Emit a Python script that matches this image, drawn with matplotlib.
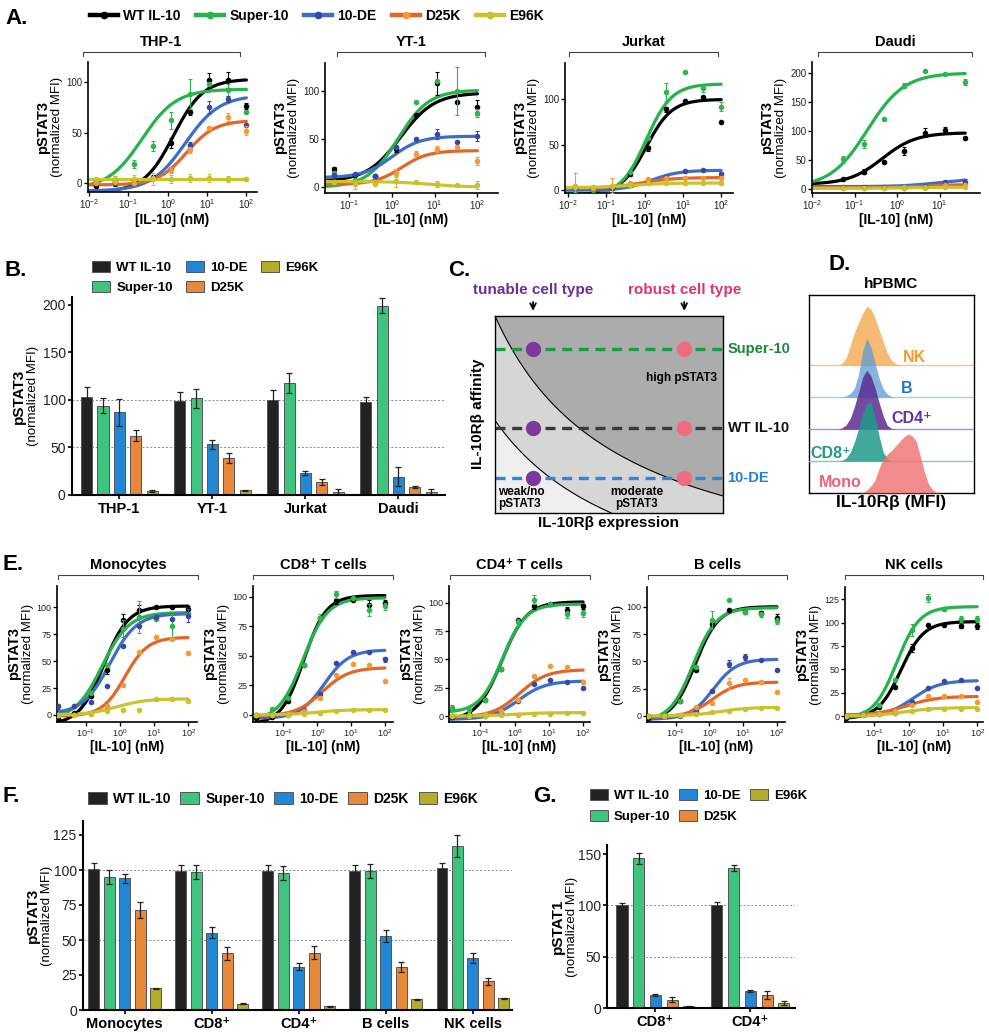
import numpy as np
import matplotlib
matplotlib.use("Agg")
import matplotlib.pyplot as plt
from matplotlib.lines import Line2D
from matplotlib.patches import Patch

plt.rcParams['font.family'] = ['Liberation Sans', 'DejaVu Sans']
plt.rcParams['mathtext.fontset'] = 'custom'
plt.rcParams['mathtext.rm'] = 'Liberation Sans'
plt.rcParams['mathtext.it'] = 'Liberation Sans:italic'
plt.rcParams['mathtext.bf'] = 'Liberation Sans:bold'

# ---------------- data ----------------
series = ["WT IL-10", "Super-10", "10-DE", "D25K", "E96K"]
line_cols = ["#000000", "#27b34b", "#3d6fc6", "#e2662a", "#cbc42d"]
dot_cols = ["#000000", "#2fb450", "#3a47a6", "#f29a38", "#c9c22c"]
bar_cols = ["#222222", "#3ec47e", "#2288d6", "#e8883b", "#b4ad2c"]

dose9 = [0.0152, 0.0457, 0.137, 0.412, 1.23, 3.70, 11.1, 33.3, 100]
dose8 = [0.0457, 0.137, 0.412, 1.23, 3.70, 11.1, 33.3, 100]
dose7 = [0.055, 0.165, 0.494, 1.48, 4.44, 13.3, 40]

# A. cell lines (points, error bars, fitted curve: bottom, top, EC50, hill)
thp1_vals = {"WT IL-10": [-3, 1, 3, 6, 40, 70, 102, 102, 76],
             "Super-10": [1, 3, 19, 37, 62, 88, 98, 92, 70],
             "10-DE": [3, 0, 0, 5, 14, 38, 75, 83, 57],
             "D25K": [0, 1, 0, 5, 13, 33, 55, 65, 52],
             "E96K": [4, 4, 4, 4, 4, 5, 5, 4, 4]}
thp1_errs = {"WT IL-10": [0, 4, 0, 0, 5, 3, 7, 8, 3],
             "Super-10": [0, 0, 4, 5, 8, 15, 0, 6, 0],
             "10-DE": [0, 0, 0, 0, 2, 3, 6, 3, 0],
             "D25K": [0, 0, 0, 0, 3, 3, 0, 4, 4],
             "E96K": [0, 3, 4, 6, 4, 4, 4, 3, 2]}
thp1_fits = {"WT IL-10": (-9, 103, 1.4, 1.15), "Super-10": (-6, 93, 0.22, 1.0),
             "10-DE": (-8, 87, 2.8, 1.0), "D25K": (-2, 62, 3.0, 1.2), "E96K": (4, 4, 1, 1)}

yt1_vals = {"WT IL-10": [19, 13, 12, 40, 75, 108, 89, 83],
            "Super-10": [15, 8, 12, 42, 88, 110, 100, 77],
            "10-DE": [13, 14, 12, 42, 50, 55, 47, 53],
            "D25K": [5, 5, 5, 15, 35, 40, 42, 27],
            "E96K": [5, 3, 3, 6, 5, 3, 2, 2]}
yt1_errs = {"WT IL-10": [2, 0, 0, 3, 0, 12, 0, 8],
            "Super-10": [0, 0, 0, 0, 0, 0, 25, 4],
            "10-DE": [0, 0, 0, 0, 0, 5, 0, 5],
            "D25K": [0, 0, 0, 4, 3, 3, 0, 4],
            "E96K": [0, 5, 0, 6, 0, 3, 0, 4]}
yt1_fits = {"WT IL-10": (6, 98, 1.6, 1.1), "Super-10": (0, 101, 1.4, 1.2),
            "10-DE": (10, 53, 1.0, 1.3), "D25K": (3, 38, 1.7, 1.4), "E96K": (6, 0, 8, 1)}

jurkat_vals = {"WT IL-10": [1, 0, 3, 18, 46, 89, 98, 103, 75],
               "Super-10": [0, 0, 3, 20, 58, 108, 130, 112, 92],
               "10-DE": [3, 2, 2, 6, 10, 15, 21, 22, 18],
               "D25K": [5, 2, 5, 8, 12, 14, 14, 14, 13],
               "E96K": [4, 4, 5, 6, 8, 8, 8, 8, 8]}
jurkat_errs = {"WT IL-10": [0, 0, 0, 2, 3, 3, 0, 0, 0],
               "Super-10": [0, 0, 0, 0, 0, 10, 0, 4, 5],
               "10-DE": [0, 0, 0, 0, 0, 0, 0, 0, 2],
               "D25K": [14, 0, 8, 0, 0, 0, 0, 0, 0],
               "E96K": [0, 0, 0, 0, 0, 0, 0, 0, 2]}
jurkat_fits = {"WT IL-10": (-5, 100, 1.1, 1.3), "Super-10": (-6, 117, 1.1, 1.3),
               "10-DE": (0, 22, 1.5, 1.2), "D25K": (2, 14, 0.8, 1.0), "E96K": (3, 8, 0.5, 1.0)}

daudi_vals = {"WT IL-10": [18, 30, 47, 65, 97, 101, 88],
              "Super-10": [51, 78, 120, 178, 204, 199, 184],
              "10-DE": [3, 4, 3, 2, 5, 10, 12],
              "D25K": [2, 2, 2, 3, 4, 6, 6],
              "E96K": [1, 1, 1, 2, 2, 3, 3]}
daudi_errs = {"WT IL-10": [0, 5, 0, 7, 8, 5, 0],
              "Super-10": [6, 7, 0, 4, 0, 0, 5],
              "10-DE": [0, 0, 0, 0, 0, 6, 6],
              "D25K": [0, 0, 0, 0, 0, 0, 0],
              "E96K": [0, 0, 0, 0, 0, 0, 0]}
daudi_fits = {"WT IL-10": (8, 97, 0.45, 1.1), "Super-10": (3, 200, 0.2, 1.0),
              "10-DE": (4, 18, 10, 1.0), "D25K": (2, 8, 5, 1.0), "E96K": (1, 3, 2, 1.0)}

# B. plateau pSTAT3 in cell lines
b_cats = ["THP-1", "YT-1", "Jurkat", "Daudi"]
b_vals = {"WT IL-10": [102.5, 98.6, 100, 97.5], "Super-10": [93.7, 101.8, 117.5, 199],
          "10-DE": [87, 53.3, 22.8, 19.3], "D25K": [62.5, 38.6, 14, 8.8], "E96K": [4, 5, 3.5, 2.8]}
b_errs = {"WT IL-10": [10.5, 10, 10, 5.6], "Super-10": [8, 10, 10.5, 8],
          "10-DE": [14, 5, 2, 9.6], "D25K": [6, 5, 3, 1], "E96K": [1, 0.7, 3, 4]}

# C. schematic boundaries (hyperbola k/(x+a)+c) and reference levels
c_outer = (0.777, 0.549, -0.415)
c_inner = (0.681, 0.642, -0.591)
c_levels = [0.83, 0.43, 0.18]
c_names = ["Super-10", "WT IL-10", "10-DE"]
c_cells = [0.167, 0.83]

# D. IL-10Rb histograms (relative counts on a shared MFI grid)
hist_x = [0.15, 0.175, 0.2, 0.225, 0.25, 0.275, 0.3, 0.325, 0.35, 0.375, 0.4, 0.425, 0.45, 0.475,
          0.5, 0.525, 0.55, 0.575, 0.6, 0.625, 0.65, 0.675, 0.7, 0.725, 0.75, 0.775, 0.8, 0.825, 0.85]
hist_nk = [0, 0, 0.03, 0.12, 0.33, 0.55, 0.72, 0.88, 1.0, 0.95, 0.8, 0.6, 0.4, 0.2, 0.08, 0.02,
           0, 0, 0, 0, 0, 0, 0, 0, 0, 0, 0, 0, 0]
hist_b = [0, 0, 0, 0.02, 0.06, 0.15, 0.38, 0.78, 1.0, 0.85, 0.58, 0.32, 0.14, 0.05, 0.01,
          0, 0, 0, 0, 0, 0, 0, 0, 0, 0, 0, 0, 0, 0]
hist_cd4 = [0, 0, 0.02, 0.07, 0.18, 0.38, 0.62, 0.88, 1.0, 0.9, 0.7, 0.45, 0.22, 0.06, 0.01,
            0, 0, 0, 0, 0, 0, 0, 0, 0, 0, 0, 0, 0, 0]
hist_cd8 = [0, 0, 0.01, 0.05, 0.15, 0.32, 0.55, 0.8, 0.98, 1.0, 0.75, 0.42, 0.15, 0.04, 0,
            0, 0, 0, 0, 0, 0, 0, 0, 0, 0, 0, 0, 0, 0]
hist_mono = [0, 0, 0, 0, 0, 0, 0, 0.01, 0.05, 0.12, 0.22, 0.42, 0.58, 0.66, 0.72, 0.8, 0.88,
             0.95, 1.0, 0.97, 0.88, 0.62, 0.35, 0.15, 0.05, 0.01, 0, 0, 0]

# E. hPBMC subsets
mono_vals = {"WT IL-10": [-4, 2, 18, 42, 88, 97, 100, 100, 98],
             "Super-10": [0, 8, 20, 46, 80, 91, 89, 82, 94],
             "10-DE": [8, 8, 12, 27, 64, 82, 91, 89, 92],
             "D25K": [0, 0, 1, 8, 28, 58, 72, 70, 57],
             "E96K": [0, 0, 2, 4, 5, 5, 15, 15, 13]}
mono_errs = {"WT IL-10": [0, 0, 0, 4, 6, 5, 0, 0, 3],
             "Super-10": [0, 0, 0, 0, 8, 15, 0, 12, 0],
             "10-DE": [2, 0, 0, 0, 0, 0, 0, 0, 6],
             "D25K": [0, 0, 0, 0, 0, 0, 0, 0, 0],
             "E96K": [0, 0, 0, 0, 0, 0, 0, 0, 0]}
mono_fits = {"WT IL-10": (-9, 101, 0.33, 1.2), "Super-10": (-4, 95, 0.3, 1.1),
             "10-DE": (1, 94, 0.5, 1.1), "D25K": (-1, 72, 1.4, 1.3), "E96K": (0, 15, 0.8, 1.0)}

cd8_vals = {"WT IL-10": [-3, -2, 12, 42, 82, 96, 97, 93, 95],
            "Super-10": [0, 5, 14, 42, 82, 102, 99, 89, 92],
            "10-DE": [0, 0, 0, 4, 18, 44, 53, 53, 47],
            "D25K": [0, 0, 1, 3, 14, 34, 43, 42, 29],
            "E96K": [0, 0, 0, 1, 2, 3, 4, 4, 4]}
cd8_errs = {"WT IL-10": [0, 0, 0, 0, 0, 2, 0, 4, 2],
            "Super-10": [0, 0, 0, 0, 3, 3, 0, 5, 3],
            "10-DE": [0, 0, 0, 0, 0, 0, 0, 0, 2],
            "D25K": [0, 0, 0, 0, 0, 0, 0, 0, 0],
            "E96K": [0, 0, 0, 0, 0, 0, 0, 0, 0]}
cd8_fits = {"WT IL-10": (-8, 101, 0.4, 1.3), "Super-10": (-5, 99, 0.38, 1.2),
            "10-DE": (-3, 55, 1.6, 1.2), "D25K": (-1, 40, 1.4, 1.1), "E96K": (0, 4.5, 1.0, 1.0)}

cd4_vals = {"WT IL-10": [-1, 2, 14, 42, 85, 97, 99, 94, 97],
            "Super-10": [7, 5, 14, 42, 83, 103, 99, 90, 91],
            "10-DE": [0, 0, 0, 3, 13, 28, 32, 30, 25],
            "D25K": [0, 1, 2, 4, 14, 35, 44, 43, 30],
            "E96K": [0, 0, 0, 1, 1, 2, 2, 3, 3]}
cd4_errs = {"WT IL-10": [0, 0, 0, 0, 0, 2, 0, 2, 2],
            "Super-10": [3, 0, 0, 0, 3, 4, 0, 3, 3],
            "10-DE": [0, 0, 0, 0, 0, 0, 0, 0, 0],
            "D25K": [0, 0, 0, 0, 0, 0, 0, 0, 0],
            "E96K": [0, 0, 0, 0, 0, 0, 0, 0, 0]}
cd4_fits = {"WT IL-10": (-4, 101, 0.42, 1.2), "Super-10": (3, 99, 0.45, 1.3),
            "10-DE": (-3, 31, 1.3, 1.1), "D25K": (-1, 41, 1.4, 1.1), "E96K": (0, 3, 1.0, 1.0)}

bcell_vals = {"WT IL-10": [-2, 1, 14, 42, 84, 97, 95, 94, 90],
              "Super-10": [0, 2, 14, 45, 88, 106, 95, 93, 87],
              "10-DE": [0, 0, 0, 5, 23, 48, 54, 51, 42],
              "D25K": [0, 0, 1, 8, 12, 30, 33, 31, 22],
              "E96K": [0, 0, 1, 2, 4, 5, 6, 7, 7]}
bcell_errs = {"WT IL-10": [0, 0, 0, 0, 0, 0, 0, 2, 3],
              "Super-10": [0, 0, 0, 0, 8, 0, 0, 2, 3],
              "10-DE": [0, 0, 0, 0, 0, 3, 3, 0, 0],
              "D25K": [0, 0, 0, 0, 0, 5, 0, 2, 0],
              "E96K": [0, 0, 0, 0, 0, 0, 0, 0, 0]}
bcell_fits = {"WT IL-10": (-5, 100, 0.38, 1.25), "Super-10": (-5, 99, 0.33, 1.25),
              "10-DE": (-3, 52, 1.3, 1.25), "D25K": (-1, 31, 1.2, 1.2), "E96K": (0, 8, 2.0, 1.0)}

nk_vals = {"WT IL-10": [-2, 2, 10, 31, 73, 97, 97, 96, 96],
           "Super-10": [0, 3, 12, 38, 92, 126, 114, 104, 104],
           "10-DE": [0, 1, 2, 3, 15, 30, 37, 38, 30],
           "D25K": [0, 1, 2, 5, 12, 21, 21, 21, 15],
           "E96K": [0, 1, 2, 3, 5, 7, 8, 8, 8]}
nk_errs = {"WT IL-10": [0, 0, 0, 0, 4, 0, 0, 2, 3],
           "Super-10": [0, 0, 0, 0, 6, 4, 2, 3, 3],
           "10-DE": [0, 0, 0, 0, 0, 0, 0, 0, 0],
           "D25K": [0, 0, 0, 0, 0, 0, 0, 0, 0],
           "E96K": [0, 0, 0, 0, 0, 0, 0, 0, 0]}
nk_fits = {"WT IL-10": (-3, 101, 0.6, 1.3), "Super-10": (-3, 117, 0.45, 1.3),
           "10-DE": (-1, 38, 1.3, 1.1), "D25K": (1, 21, 0.9, 1.0), "E96K": (0, 9, 0.8, 1.0)}

# F. plateau pSTAT3 in hPBMC subsets
f_cats = ["Monocytes", "CD8⁺", "CD4⁺", "B cells", "NK cells"]
f_vals = {"WT IL-10": [100.5, 99.5, 99.5, 99.5, 101.2], "Super-10": [94.8, 98.3, 97.6, 99.3, 117],
          "10-DE": [94, 55.2, 31, 52.9, 37.4], "D25K": [71.4, 40.5, 41, 31, 20.7],
          "E96K": [15.5, 4.5, 2.6, 7.6, 8.3]}
f_errs = {"WT IL-10": [4.5, 4, 4, 4, 4], "Super-10": [5, 5, 5, 5, 8],
          "10-DE": [3, 4, 2.5, 4.5, 3.5], "D25K": [5.5, 4.5, 4.5, 3.5, 2.5],
          "E96K": [0.4, 0.3, 0.3, 0.5, 0.3]}

# G. pSTAT1
g_cats = ["CD8⁺", "CD4⁺"]
g_vals = {"WT IL-10": [100, 100], "Super-10": [146, 136.4], "10-DE": [12.3, 16.6],
          "D25K": [8.1, 13], "E96K": [1.6, 4.9]}
g_errs = {"WT IL-10": [2, 3], "Super-10": [5.5, 3], "10-DE": [1, 1], "D25K": [2.5, 4], "E96K": [0.6, 1.5]}

# ---------------- layout helpers ----------------
W, H = 989, 1035
fig = plt.figure(figsize=(W / 100, H / 100), dpi=100)


def px_ax(l, t, r, b):
    return fig.add_axes([l / W, 1 - b / H, (r - l) / W, (b - t) / H])


def ftext(x, y, s, **kw):
    kw.setdefault('ha', 'center')
    kw.setdefault('va', 'center')
    return fig.text(x / W, 1 - y / H, s, **kw)


def bracket(x0, x1, y, label, fs=10.5):
    fig.add_artist(Line2D([x0 / W, x0 / W, x1 / W, x1 / W],
                          [1 - (y + 4) / H, 1 - y / H, 1 - y / H, 1 - (y + 4) / H],
                          color='#444444', lw=0.8))
    ftext((x0 + x1) / 2, y - 10, label, fontsize=fs, fontweight='bold')


def ylabel2(left, top, bottom, first, o1, o2, fs1, fs2):
    yc = (top + bottom) / 2
    ftext(left + o1, yc, first, rotation=90, fontsize=fs1, fontweight='bold')
    ftext(left + o2, yc, "(normalized MFI)", rotation=90, fontsize=fs2)


def style_axes(ax, lw=1.2, fs=7.5):
    for s in ('top', 'right'):
        ax.spines[s].set_visible(False)
    for s in ('left', 'bottom'):
        ax.spines[s].set_linewidth(lw)
    ax.tick_params(direction='out', length=3, width=lw * 0.8, labelsize=fs, pad=1.5,
                   labelcolor='#222222')


def curve_panel(box, doses, vals, errs, fits, xlim, ylim, yticks, xticks, tick_fs=7.5):
    l, t, r, b = box
    ax = px_ax(l, t, r, b)
    xs = np.logspace(np.log10(xlim[0]), np.log10(max(doses)), 250)
    for i, s in enumerate(series):
        bot, top, ec, hill = fits[s]
        ax.plot(xs, bot + (top - bot) / (1 + (ec / xs) ** hill), color=line_cols[i], lw=2.3,
                solid_capstyle='round', zorder=2 + i * 0.1)
        ax.plot(doses, vals[s], 'o', ms=3.0, color=dot_cols[i], zorder=4)
        e = np.array(errs[s], dtype=float)
        m = e > 0
        if m.any():
            ax.errorbar(np.array(doses)[m], np.array(vals[s], dtype=float)[m], yerr=e[m], fmt='none',
                        ecolor=dot_cols[i], elinewidth=0.8, capsize=1.6, capthick=0.8, zorder=4)
    ax.set_xscale('log')
    ax.set_xlim(*xlim)
    ax.set_ylim(*ylim)
    ax.set_yticks(yticks)
    ax.set_xticks(xticks)
    ax.minorticks_off()
    style_axes(ax, 1.2, tick_fs)
    ax.tick_params(axis='x', pad=1)
    ax.tick_params(axis='y', pad=1)
    return ax


def bar_panel(box, cats, vals, errs, ylim, yticks, xlim, step, width, cat_fs=10.5, tick_fs=10):
    ax = px_ax(*box)
    x = np.arange(len(cats))
    for i, s in enumerate(series):
        ax.bar(x + (i - 2) * step, vals[s], width, yerr=errs[s], color=bar_cols[i],
               edgecolor='#555555', linewidth=0.7, zorder=2,
               error_kw=dict(elinewidth=0.9, capsize=2.5, capthick=0.9, ecolor='#222222'))
    for yy in (50, 100):
        ax.axhline(yy, color='#888888', lw=0.7, ls=(0, (2, 2)), zorder=0)
    ax.set_xlim(*xlim)
    ax.set_ylim(*ylim)
    ax.set_yticks(yticks)
    ax.set_xticks(x + 0.0)
    ax.set_xticklabels(cats, fontsize=cat_fs, fontweight='bold')
    style_axes(ax, 1.5, tick_fs)
    ax.tick_params(axis='x', labelsize=cat_fs, labelcolor='k', pad=2)
    return ax


# ---------------- panel A ----------------
ftext(5, 18, "A.", fontsize=16, fontweight='bold', ha='left')
hA = [Line2D([], [], color=line_cols[i], lw=3.2, marker='o', ms=4.5, mfc=dot_cols[i], mec=dot_cols[i])
      for i in range(5)]
fig.legend(hA, series, loc='center left', bbox_to_anchor=(90 / W, 1 - 16 / H), ncol=5, frameon=False,
           prop={'weight': 'bold', 'size': 10}, handlelength=2.0, handletextpad=0.4,
           columnspacing=1.1, borderaxespad=0, borderpad=0)

a_boxes = [(88, 62, 257, 192), (325, 63, 498, 193), (565, 63, 733, 193), (812, 62, 980, 193)]
a_titles = ["THP-1", "YT-1", "Jurkat", "Daudi"]
a_brackets = [(83, 240), (337, 485), (569, 718), (818, 972)]
a_sets = [(dose9, thp1_vals, thp1_errs, thp1_fits, (10 ** -2.03, 10 ** 2.27), (-9, 120), [0, 50, 100],
           [0.01, 0.1, 1, 10, 100], 7.0),
          (dose8, yt1_vals, yt1_errs, yt1_fits, (10 ** -1.56, 10 ** 2.48), (-6, 129), [0, 50, 100],
           [0.1, 1, 10, 100], 7.0),
          (dose9, jurkat_vals, jurkat_errs, jurkat_fits, (10 ** -2.08, 10 ** 2.31), (-3, 140), [0, 50, 100],
           [0.01, 0.1, 1, 10, 100], 7.0),
          (dose7, daudi_vals, daudi_errs, daudi_fits, (10 ** -2.0, 10 ** 1.95), (-7, 219),
           [0, 50, 100, 150, 200], [0.01, 0.1, 1, 10], 7.0)]
for box, ttl, br, st in zip(a_boxes, a_titles, a_brackets, a_sets):
    curve_panel(box, *st)
    bracket(br[0], br[1], 52, ttl)
    ylabel2(box[0], box[1], box[3], "pSTAT3", -45, -31, 10.5, 9.5)
    ftext((box[0] + box[2]) / 2, 220, "[IL-10] (nM)", fontsize=10, fontweight='bold')

# ---------------- panel B ----------------
ftext(5, 270, "B.", fontsize=16, fontweight='bold', ha='left')
hB = [Patch(facecolor=bar_cols[i], edgecolor='#555555', lw=0.7) for i in range(5)]
fig.legend(hB, series, loc='upper left', bbox_to_anchor=(92 / W, 1 - 261 / H), ncol=3, frameon=False,
           prop={'weight': 'bold', 'size': 9.5}, handlelength=1.35, handleheight=0.9, handletextpad=0.5,
           columnspacing=1.0, labelspacing=0.55, borderaxespad=0, borderpad=0)
bar_panel((72, 297, 445, 495), b_cats, b_vals, b_errs, (0, 208), [0, 50, 100, 150, 200],
          (-0.51, 3.5), 0.176, 0.12)
ylabel2(72, 297, 495, "pSTAT3", -53, -39, 11, 9.5)

# ---------------- panel C ----------------
ftext(448, 270, "C.", fontsize=16, fontweight='bold', ha='left')
axc = px_ax(495, 316, 723, 513)
axc.set_xlim(0, 1)
axc.set_ylim(0, 1)
axc.set_facecolor('#efefef')
cx = np.linspace(0, 1, 400)
inner = c_inner[0] / (cx + c_inner[1]) + c_inner[2]
outer = c_outer[0] / (cx + c_outer[1]) + c_outer[2]
axc.fill_between(cx, np.clip(inner, 0, 1), 1, color='#d6d6d6', lw=0, zorder=0)
axc.fill_between(cx, np.clip(outer, 0, 1), 1, color='#acacac', lw=0, zorder=0)
axc.plot(cx[inner >= 0], inner[inner >= 0], color='k', lw=0.8, zorder=1)
axc.plot(cx, outer, color='k', lw=0.8, zorder=1)
c_line_cols = ['#1d9a45', '#3a3a3a', '#2a88d6']
c_txt_cols = ['#178a3a', '#111111', '#1f7fd0']
for lev, nm, lc, tc in zip(c_levels, c_names, c_line_cols, c_txt_cols):
    axc.plot([0, 1], [lev, lev], color=lc, lw=2.4, ls=(0, (3, 2)), zorder=2, clip_on=False)
    axc.text(1.02, lev, nm, color=tc, fontsize=10.5, fontweight='bold', ha='left', va='center',
             transform=axc.transAxes)
    axc.plot(c_cells[0], lev, 'o', ms=10, color='#7b3a9b', zorder=3)
    axc.plot(c_cells[1], lev, 'o', ms=10, color='#f06b7f', zorder=3)
for cxp in c_cells:
    axc.annotate('', xy=(cxp, 1.012), xytext=(cxp, 1.085), xycoords='axes fraction',
                 arrowprops=dict(arrowstyle='->', lw=1.3, color='k'), annotation_clip=False)
axc.text(c_cells[0], 1.13, "tunable cell type", color='#6b2f96', fontsize=11, fontweight='bold',
         ha='center', va='center', transform=axc.transAxes)
axc.text(c_cells[1], 1.13, "robust cell type", color='#e0356a', fontsize=11, fontweight='bold',
         ha='center', va='center', transform=axc.transAxes)
axc.text(0.82, 0.685, "high pSTAT3", fontsize=8.5, fontweight='bold', ha='center', va='center')
axc.text(0.012, 0.075, "weak/no\npSTAT3", fontsize=8.5, fontweight='bold', ha='left', va='center',
         linespacing=1.0)
axc.text(0.62, 0.075, "moderate\npSTAT3", fontsize=8.5, fontweight='bold', ha='center', va='center',
         linespacing=1.0)
axc.set_xticks([])
axc.set_yticks([])
for s in axc.spines.values():
    s.set_linewidth(1.0)
ftext(478, 414, "IL-10Rβ affinity", rotation=90, fontsize=11, fontweight='bold')
ftext(609, 523, "IL-10Rβ expression", fontsize=11, fontweight='bold')

# ---------------- panel D ----------------
ftext(828, 265, "D.", fontsize=16, fontweight='bold', ha='left')
axd = px_ax(809, 295, 974, 493)
axd.set_xlim(0, 1)
axd.set_ylim(0, 6.19)
d_rows = [("NK", hist_nk, 4, '#f5a94f', 0.8, '#f6c48e', '#f39a2e', 0.64, 4.25),
          ("B", hist_b, 3, '#5b9bd5', 0.75, '#a9cbe8', '#1f78c8', 0.59, 3.28),
          ("CD4⁺", hist_cd4, 2, '#5b2d91', 0.85, '#a395c8', '#6a2f9a', 0.62, 2.34),
          ("CD8⁺", hist_cd8, 1, '#1f9a88', 0.85, '#86c9bf', '#1f9a88', 0.13, 1.25),
          ("Mono", hist_mono, 0, '#ef6f6f', 0.8, None, '#ec6078', 0.19, 0.34)]
for k, (nm, hv, base, fc, al, blc, tc, tx, ty) in enumerate(d_rows):
    if blc:
        axd.axhline(base, color=blc, lw=1.0, zorder=1 + k)
    axd.fill_between(hist_x, base, base + 1.84 * np.array(hv), color=fc, alpha=al, lw=0, zorder=1.5 + k)
    axd.text(tx, ty, nm, color=tc, fontsize=11.5, fontweight='bold', ha='center', va='center', zorder=10)
axd.set_xticks([])
axd.set_yticks([])
for s in axd.spines.values():
    s.set_linewidth(1.0)
ftext(891, 284, "hPBMC", fontsize=11, fontweight='bold')
ftext(891, 503, "IL-10Rβ (MFI)", fontsize=12.5, fontweight='bold')

# ---------------- panel E ----------------
ftext(3, 565, "E.", fontsize=16, fontweight='bold', ha='left')
e_boxes = [(57, 586, 197, 722), (253, 586, 393, 722), (449, 586, 590, 722),
           (647, 587, 785, 722), (845, 587, 983, 722)]
e_titles = ["Monocytes", "CD8⁺ T cells", "CD4⁺ T cells", "B cells", "NK cells"]
e_brackets = [(58, 198), (253, 393), (450, 590), (648, 787), (845, 983)]
e_sets = [(dose9, mono_vals, mono_errs, mono_fits, (10 ** -1.85, 10 ** 2.26), (-6.5, 119.5),
           [0, 25, 50, 75, 100], [0.1, 1, 10, 100], 6.5),
          (dose9, cd8_vals, cd8_errs, cd8_fits, (10 ** -1.9, 10 ** 2.24), (-6, 109),
           [0, 25, 50, 75, 100], [0.1, 1, 10, 100], 6.5),
          (dose9, cd4_vals, cd4_errs, cd4_fits, (10 ** -1.91, 10 ** 2.2), (-5.3, 115),
           [0, 25, 50, 75, 100], [0.1, 1, 10, 100], 6.5),
          (dose9, bcell_vals, bcell_errs, bcell_fits, (10 ** -1.85, 10 ** 2.24), (-5.5, 118),
           [0, 25, 50, 75, 100], [0.1, 1, 10, 100], 6.5),
          (dose9, nk_vals, nk_errs, nk_fits, (10 ** -1.85, 10 ** 2.17), (-6.4, 138),
           [0, 25, 50, 75, 100, 125], [0.1, 1, 10, 100], 6.5)]
for box, ttl, br, st in zip(e_boxes, e_titles, e_brackets, e_sets):
    curve_panel(box, *st)
    bracket(br[0], br[1], 575, ttl)
    ylabel2(box[0], box[1], box[3], "pSTAT3", -43, -29, 10.5, 9.5)
    ftext((box[0] + box[2]) / 2, 747, "[IL-10] (nM)", fontsize=10, fontweight='bold')

# ---------------- panel F ----------------
ftext(3, 797, "F.", fontsize=16, fontweight='bold', ha='left')
fig.legend(hB, series, loc='center left', bbox_to_anchor=(88 / W, 1 - 799 / H), ncol=5, frameon=False,
           prop={'weight': 'bold', 'size': 10}, handlelength=1.35, handleheight=0.9, handletextpad=0.45,
           columnspacing=0.7, borderaxespad=0, borderpad=0)
bar_panel((83, 821, 512, 1010), f_cats, f_vals, f_errs, (0, 135), [0, 25, 50, 75, 100, 125],
          (-0.48, 4.45), 0.178, 0.123)
ylabel2(83, 821, 1010, "pSTAT3", -50, -36, 11, 9.5)

# ---------------- panel G ----------------
ftext(533, 797, "G.", fontsize=16, fontweight='bold', ha='left')
fig.legend(hB, series, loc='upper left', bbox_to_anchor=(590 / W, 1 - 789 / H), ncol=3, frameon=False,
           prop={'weight': 'bold', 'size': 9.5}, handlelength=1.35, handleheight=0.9, handletextpad=0.45,
           columnspacing=0.7, labelspacing=0.6, borderaxespad=0, borderpad=0)
bar_panel((607, 845, 795, 1008), g_cats, g_vals, g_errs, (0, 159), [0, 50, 100, 150],
          (-0.51, 1.47), 0.176, 0.116)
ylabel2(607, 845, 1008, "pSTAT1", -49, -35, 11, 9.5)

fig.savefig("out.png", dpi=100)
